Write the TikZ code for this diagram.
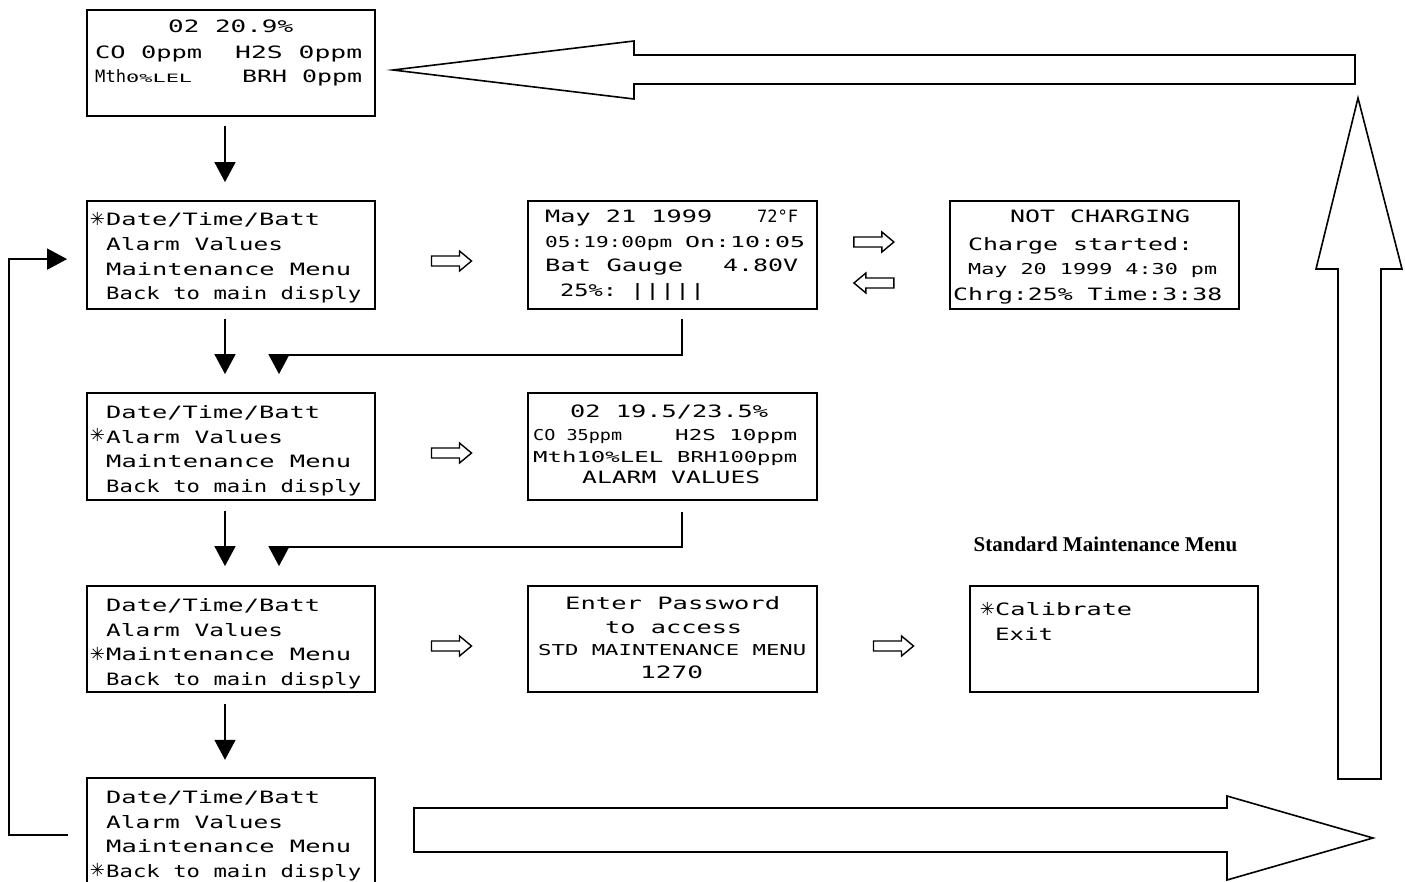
\documentclass[tikz,border=0pt]{standalone}
\usepackage{fontspec}
\usepackage{graphicx}
\setmainfont{Liberation Serif}
\newfontfamily\lcdfont{DejaVu Sans Mono}
\newfontfamily\symfont{DejaVu Sans}
\usetikzlibrary{arrows.meta,calc}
\newcommand\fitw[2]{\resizebox{#1pt}{\height}{#2}}
\newcommand\LT[5]{\node[lcd] (#1) at (#2,#3) {\fitw{#4}{#5}};}
\newcommand\LS[5]{\node[lcds] (#1) at (#2,#3) {\fitw{#4}{#5}};}
\newcommand\AST[3]{\node[ast] (#1) at (#2,#3) {✳};}
\begin{document}
\begin{tikzpicture}[x=1pt,y=-1pt,
  box/.style={draw, line width=1.8pt, inner sep=0pt, rectangle},
  lcd/.style={inner sep=0pt, anchor=base west, font=\lcdfont\fontsize{17}{17}\selectfont},
  lcds/.style={inner sep=0pt, anchor=base west, font=\lcdfont\fontsize{15}{15}\selectfont},
  lcdt/.style={inner sep=0pt, anchor=base west, font=\lcdfont\fontsize{11.5}{11.5}\selectfont},
  ast/.style={inner sep=0pt, anchor=center, font=\symfont\fontsize{18}{18}\selectfont},
  blk/.style={line width=1.5pt, -{Triangle[length=20pt,width=21pt]}},
  bigarrow/.style={draw, line width=1.6pt, fill=white, line join=miter},
  harrow/.pic={\draw[line width=1.4pt, fill=white] (-20,-5) -- (8,-5) -- (8,-10) -- (20,0) -- (8,10) -- (8,5) -- (-20,5) -- cycle;}
]
\fill[white] (0,0) rectangle (1405,882);
\useasboundingbox (0,0) rectangle (1405,882);

% boxes
\node[box, minimum width=288pt, minimum height=106pt] (main) at (231,63) {};
\node[box, minimum width=288pt, minimum height=108pt] (m1) at (231,255) {};
\node[box, minimum width=288pt, minimum height=107pt] (m2) at (231,446.5) {};
\node[box, minimum width=288pt, minimum height=106pt] (m3) at (231,639) {};
\node[inner sep=0pt, minimum width=288pt, minimum height=114pt] (m4) at (231,835) {};
\draw[line width=1.8pt] (m4.south west) -- (m4.north west) -- (m4.north east) -- (m4.south east);
\node[box, minimum width=289pt, minimum height=108pt] (date) at (672.5,255) {};
\node[box, minimum width=289pt, minimum height=108pt] (chg) at (1094.5,255) {};
\node[box, minimum width=289pt, minimum height=107pt] (alarm) at (672.5,446.5) {};
\node[box, minimum width=289pt, minimum height=106pt] (pwd) at (672.5,639) {};
\node[box, minimum width=288pt, minimum height=106pt] (std) at (1114,639) {};

% main display
\LT{a1}{168}{33}{125}{02 20.9\%}
\LT{a2}{95}{59}{107}{CO 0ppm}
\LT{a3}{235}{59}{127}{H2S 0ppm}
\LT{a4}{95}{83}{31}{Mth}
\node[lcdt] (a5) at (126,83) {\fitw{66}{0\%LEL}};
\LT{a6}{242}{83}{120}{BRH 0ppm}

% menu 1
\AST{s1}{97.5}{219}
\LT{b1}{106}{226}{214}{Date/Time/Batt}
\LT{b2}{106}{251}{177}{Alarm Values}
\LT{b3}{106}{275.5}{245}{Maintenance Menu}
\LT{b4}{106}{300}{255}{Back to main disply}
% menu 2
\AST{s2}{97.5}{435}
\LT{c1}{106}{418}{214}{Date/Time/Batt}
\LT{c2}{106}{443}{177}{Alarm Values}
\LT{c3}{106}{467.5}{245}{Maintenance Menu}
\LT{c4}{106}{492}{255}{Back to main disply}
% menu 3
\AST{s3}{97.5}{653.5}
\LT{d1}{106}{611}{214}{Date/Time/Batt}
\LT{d2}{106}{636}{177}{Alarm Values}
\LT{d3}{106}{660.5}{245}{Maintenance Menu}
\LT{d4}{106}{685}{255}{Back to main disply}
% menu 4
\AST{s4}{97.5}{870}
\LT{e1}{106}{803}{214}{Date/Time/Batt}
\LT{e2}{106}{828}{177}{Alarm Values}
\LT{e3}{106}{852.5}{245}{Maintenance Menu}
\LT{e4}{106}{877}{255}{Back to main disply}

% date box
\LT{f1}{545}{223}{167}{May 21 1999}
\LT{f2}{757}{223}{41}{72°F}
\LS{f3}{545}{248}{127}{05:19:00pm}
\LS{f4}{685}{248}{120}{On:10:05}
\LT{f5}{545}{272}{138}{Bat Gauge}
\LT{f6}{723}{272}{75}{4.80V}
\LT{f7}{560}{297}{57}{25\%:}
\LT{f8}{630}{297}{75}{|||||}

% charging box
\LT{g1}{1010}{223}{180}{NOT CHARGING}
\LT{g2}{968}{251}{225}{Charge started:}
\LS{g3}{968}{275}{249}{May 20 1999 4:30 pm}
\LT{g4}{953}{301}{269}{Chrg:25\% Time:3:38}

% alarm box
\LT{h1}{570}{417}{198}{02 19.5/23.5\%}
\LS{h2}{533}{440}{89}{CO 35ppm}
\LS{h3}{675}{440}{122}{H2S 10ppm}
\LS{h4}{533}{462}{130}{Mth10\%LEL}
\LS{h5}{677}{462}{120}{BRH100ppm}
\LT{h6}{582}{483}{178}{ALARM VALUES}

% password box
\LT{i1}{565}{609}{215}{Enter Password}
\LT{i2}{605}{633}{137}{to access}
\LS{i3}{538}{655}{268}{STD MAINTENANCE MENU}
\LT{i4}{640}{678}{63}{1270}

% standard maintenance menu
\node[font=\bfseries\fontsize{21}{21}\selectfont, inner sep=0pt, anchor=base] (lbl) at (1105.5,551) {Standard Maintenance Menu};
\AST{s5}{987.5}{609}
\LT{j1}{995}{615}{137}{Calibrate}
\LT{j2}{995}{640}{58}{Exit}

% black connectors
\draw[blk] ([xshift=-6pt,yshift=-9pt]main.south) -- ([xshift=-6pt,yshift=18pt]m1.north);
\draw[blk] ([xshift=-6pt,yshift=-9pt]m1.south) -- ([xshift=-6pt,yshift=18pt]m2.north);
\draw[blk] ([xshift=-6pt,yshift=-10pt]m2.south) -- ([xshift=-6pt,yshift=19pt]m2.south |- m3.north);
\draw[blk] ([xshift=-6pt,yshift=-11pt]m3.south) -- ([xshift=-6pt,yshift=18pt]m4.north);
\draw[blk] ([xshift=9.5pt,yshift=-9pt]date.south) |- ($(m2.north)+(48,-37)$) -- ($(m2.north)+(48,-18)$);
\draw[blk] ([xshift=9.5pt,yshift=-11pt]alarm.south) |- ($(m3.north)+(48,-38)$) -- ($(m3.north)+(48,-19)$);
\draw[blk] ($(m4.north west)+(-19,57)$) -| ($(m1.north west)+(-77,59)$) -- ($(m1.north west)+(-19,59)$);

% hollow small arrows
\pic at ($(m1.east)!.5!(date.west)+(0,6)$) {harrow};
\pic at ($(m2.east)!.5!(alarm.west)+(0,6.5)$) {harrow};
\pic at ($(m3.east)!.5!(pwd.west)+(0,7)$) {harrow};
\pic at ($(date.east)+(56,-13)$) {harrow};
\pic[xscale=-1] at ($(date.east)+(56,28)$) {harrow};
\pic at ($(pwd.east)!.5!(std.west)+(0,7)$) {harrow};

% big hollow arrows
\draw[bigarrow] (393,70) -- (634,41) -- (634,55) -- (1355,55) -- (1355,84) -- (634,84) -- (634,99) -- cycle;
\draw[bigarrow] (1358,98) -- (1402,269) -- (1381,269) -- (1381,779) -- (1338,779) -- (1338,269) -- (1316,269) -- cycle;
\draw[bigarrow] (414,808) -- (1227,808) -- (1227,796) -- (1373,838) -- (1227,880) -- (1227,852) -- (414,852) -- cycle;
\end{tikzpicture}
\end{document}
